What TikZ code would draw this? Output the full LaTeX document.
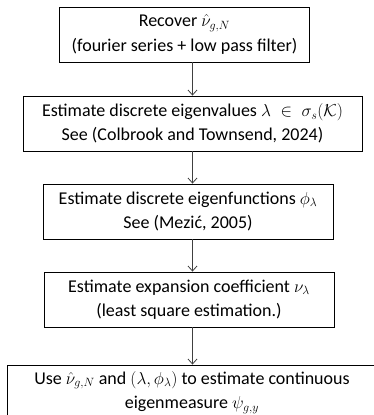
\documentclass[tikz,border=0pt]{standalone}
\usepackage{fontspec}
\setmainfont{Carlito}
\usetikzlibrary{arrows.meta}
\begin{document}
\begin{tikzpicture}[x=1pt,y=-1pt,
  box/.style={draw=black, line width=0.8pt, inner sep=0pt, align=center,
    font=\fontsize{18}{24.5}\selectfont, minimum height=55pt},
  arr/.style={draw=black!75, line width=0.8pt, -{Straight Barb[length=5pt,width=9pt]}}]
\useasboundingbox (0,0) rectangle (373,415);
\node[box, minimum width=250pt] (b1) at (184.5,34.5) {Recover $\hat{\nu}_{g,N}$\\(fourier series + low pass filter)};
\node[box, minimum width=339pt] (b2) at (192.5,123.5) {Estimate discrete eigenvalues $\lambda\mathrel{\;\in\;}\sigma_s(\mathcal{K})$\\See (Colbrook and Townsend, 2024)};
\node[box, minimum width=290pt] (b3) at (188,211.5) {Estimate discrete eigenfunctions $\phi_\lambda$\\See (Mezić, 2005)};
\node[box, minimum width=290pt] (b4) at (189,299.5) {Estimate expansion coefficient $\nu_\lambda$\\(least square estimation.)};
\node[box, minimum width=370pt] (b5) at (192,392.5) {Use $\hat{\nu}_{g,N}$ and $(\lambda,\phi_\lambda)$ to estimate continuous\\eigenmeasure $\psi_{g,y}$};
\draw[arr] (b1.south -| b2.north) -- (b2.north);
\draw[arr] (b2.south) -- (b3.north -| b2.south);
\draw[arr] (b3.south -| b2.south) -- (b4.north -| b2.south);
\draw[arr] (b4.south -| b2.south) -- (b5.north -| b2.south);
\end{tikzpicture}
\end{document}
